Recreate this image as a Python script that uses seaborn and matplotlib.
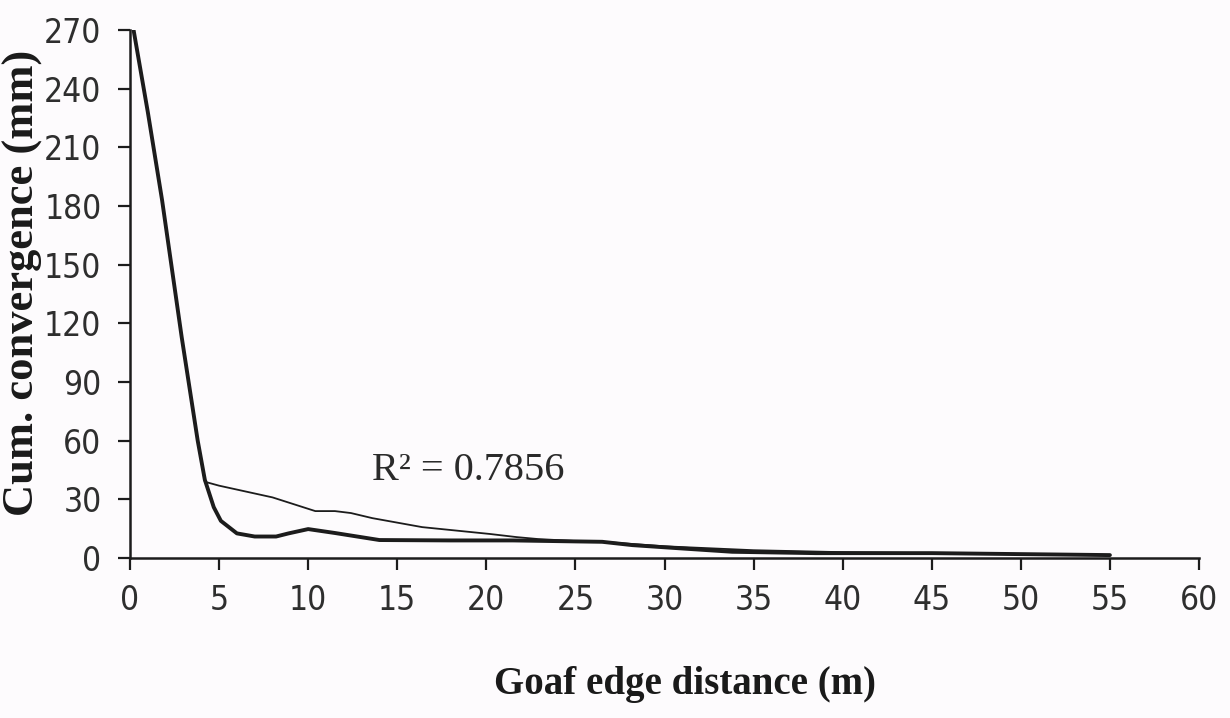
import matplotlib
matplotlib.use("Agg")
import matplotlib.pyplot as plt
import pandas as pd
import seaborn as sns

# Measured cumulative convergence against distance from the goaf edge
dist_measured = [0.2, 1.0, 1.8, 2.9, 3.8, 4.2, 4.7, 5.1, 6.0, 7.0, 8.2, 8.9,
                 10.0, 11.5, 14.0, 18.0, 21.5, 25.0, 26.5, 28.2, 30.8, 33.8,
                 38.5, 45.0, 50.0, 55.0]
conv_measured = [270, 228, 183, 113, 60, 40, 26, 19, 12.6, 11, 11, 12.6,
                 14.8, 12.8, 9.2, 9.0, 9.0, 8.5, 8.3, 6.6, 5.0, 3.2,
                 2.5, 2.5, 2.0, 1.5]

# Fitted trend curve
dist_fit = [0.2, 1.0, 1.8, 2.9, 3.8, 4.2, 5.0, 8.0, 10.4, 11.5, 12.4, 13.6,
            16.4, 20.2, 21.7, 22.9, 25.0, 27.0, 30.0, 35.0, 40.0, 50.0, 55.0]
conv_fit = [270, 228, 183, 113, 60, 39, 37, 31, 24, 24, 23, 20.4,
            15.8, 12.3, 10.7, 9.7, 8.7, 8.0, 6.0, 4.0, 3.0, 2.0, 1.5]

r2_label = "R² = 0.7856"
x_ticks = [0, 5, 10, 15, 20, 25, 30, 35, 40, 45, 50, 55, 60]
y_ticks = [0, 30, 60, 90, 120, 150, 180, 210, 240, 270]
x_title = "Goaf edge distance (m)"
y_title = "Cum. convergence (mm)"

sns.set_style("ticks")
plt.rcParams["font.family"] = ["DejaVu Sans"]

paper = "#fdfbfd"
ink = "#1c1c1c"
serif = ["Liberation Serif", "DejaVu Serif"]

df_measured = pd.DataFrame({"dist": dist_measured, "conv": conv_measured})
df_fit = pd.DataFrame({"dist": dist_fit, "conv": conv_fit})

fig = plt.figure(figsize=(12.3, 7.18), dpi=100, facecolor=paper)
ax = fig.add_axes([0.1057, 0.2228, 0.8691, 0.7354])
ax.set_facecolor(paper)

sns.lineplot(data=df_fit, x="dist", y="conv", ax=ax, color=ink,
             linewidth=1.3, sort=False, estimator=None)
sns.lineplot(data=df_measured, x="dist", y="conv", ax=ax, color=ink,
             linewidth=2.8, sort=False, estimator=None)

ax.set_xlim(0, 60)
ax.set_ylim(0, 270)
ax.set_xticks(x_ticks)
ax.set_yticks(y_ticks)
ax.set_xticklabels([str(v) for v in x_ticks])
ax.set_yticklabels([str(v) for v in y_ticks])

for side in ("top", "right"):
    ax.spines[side].set_visible(False)
for side in ("left", "bottom"):
    ax.spines[side].set_linewidth(1.8)
    ax.spines[side].set_color(ink)

ax.tick_params(axis="both", direction="out", length=8.5, width=1.6,
               color=ink, labelcolor="#2e2e2e", labelsize=24)
ax.tick_params(axis="y", pad=12)
ax.tick_params(axis="x", pad=10)
for lab in ax.get_xticklabels() + ax.get_yticklabels():
    lab.set_fontstretch("condensed")

ax.set_xlabel(x_title, fontsize=28, fontweight="bold", family=serif,
              color="#1a1a1a")
ax.xaxis.set_label_coords(0.519, -0.205)
ax.xaxis.label.set_va("top")

ax.set_ylabel(y_title, fontsize=32, fontweight="bold", family=serif,
              color="#1a1a1a")
ax.yaxis.set_label_coords(-0.1, 0.521)
ax.yaxis.label.set_va("center")

ax.text(13.6, 45, r2_label, fontsize=29, color="#2a2a2a", family=serif,
        ha="left", va="center")

fig.savefig("out.png", dpi=100, facecolor=paper)
